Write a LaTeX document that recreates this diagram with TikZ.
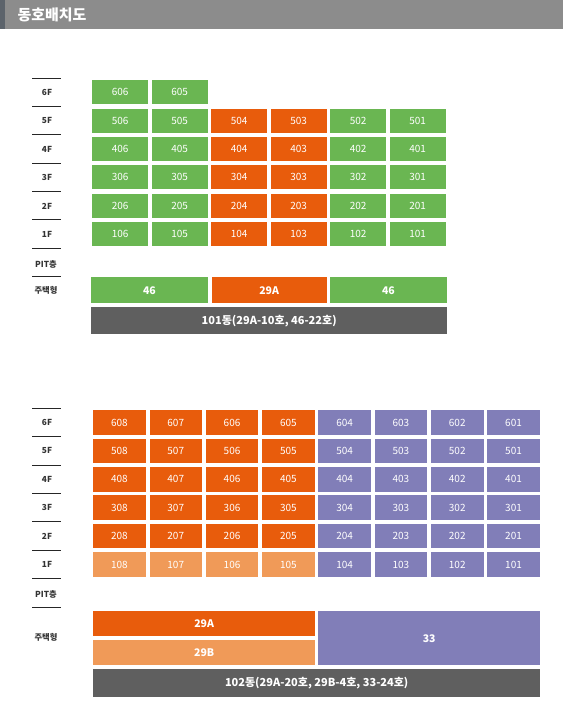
\documentclass[tikz,border=0pt]{standalone}
\usepackage{fontspec}
\setmainfont{Noto Sans CJK KR}
\definecolor{cgreen}{HTML}{6AB652}
\definecolor{corange}{HTML}{E85C0C}
\definecolor{clorange}{HTML}{F09A58}
\definecolor{cpurple}{HTML}{817EB8}
\definecolor{cbar}{HTML}{5F5F5F}
\definecolor{chead}{HTML}{8C8C8C}
\definecolor{cheadl}{HTML}{5C636B}
\definecolor{clabel}{HTML}{333333}
\begin{document}
\begin{tikzpicture}[x=1pt,y=-1pt,
  cell/.style={anchor=north west, inner sep=0pt, text=white,
    font=\fontsize{10}{10}\selectfont},
  typebox/.style={anchor=north west, inner sep=0pt, text=white,
    font=\bfseries\fontsize{10.5}{10.5}\selectfont},
  floorlbl/.style={text=clabel, font=\bfseries\fontsize{8.3}{8.3}\selectfont},
  sepline/.style={draw=black!85, line width=0.6pt}]
\useasboundingbox[fill=white] (0,0) rectangle (563,709);
% header
\fill[chead] (0,0) rectangle (563,29);
\fill[cheadl] (0,0) rectangle (5,29);
\node[anchor=west, text=white, font=\bfseries\fontsize{15}{15}\selectfont] (title) at (14,15) {동호배치도};

% ---------- 101 ----------
\foreach \k in {0,...,7} {
  \draw[sepline] (32,{78+\k*28.3}) -- (61,{78+\k*28.3});
}
\foreach \f in {6,...,1} {
  \pgfmathsetmacro{\yt}{80+(6-\f)*28.4}
  \node[floorlbl] (fa\f) at (47,{\yt+12.5}) {\f F};
}
\node[floorlbl] (fapit) at (46,264) {PIT층};
\node[floorlbl] (fatype) at (46,290) {주택형};
% 6F
\node[cell, fill=cgreen, minimum width=56pt, minimum height=24pt] (a606) at (92,80) {606};
\node[cell, fill=cgreen, minimum width=56pt, minimum height=24pt] (a605) at (151.5,80) {605};
\foreach \f in {5,...,1} {
  \foreach \i in {0,...,5} {
    \pgfmathsetmacro{\yt}{80+(6-\f)*28.4}
    \pgfmathsetmacro{\xl}{92+\i*59.5}
    \pgfmathtruncatemacro{\num}{\f*100+6-\i}
    \ifnum\i=2 \def\cc{corange}\else\ifnum\i=3 \def\cc{corange}\else\def\cc{cgreen}\fi\fi
    \node[cell, fill=\cc, minimum width=56pt, minimum height=24pt] (a\num) at (\xl,\yt) {\num};
  }
}
\node[typebox, fill=cgreen, minimum width=116.5pt, minimum height=26pt] (at1) at (91,277) {46};
\node[typebox, fill=corange, minimum width=115pt, minimum height=26pt] (at2) at (211.5,277) {29A};
\node[typebox, fill=cgreen, minimum width=116.5pt, minimum height=26pt] (at3) at (330,277) {46};
\node[typebox, fill=cbar, minimum width=356pt, minimum height=27pt,
  font=\bfseries\fontsize{11}{11}\selectfont] (abar) at (91,307) {101동(29A-10호, 46-22호)};

% ---------- 102 ----------
\foreach \k in {0,...,7} {
  \draw[sepline] (32,{408+\k*28.4}) -- (61,{408+\k*28.4});
}
\foreach \f in {6,...,1} {
  \pgfmathsetmacro{\yt}{410+(6-\f)*28.4}
  \node[floorlbl] (fb\f) at (47,{\yt+12.5}) {\f F};
}
\node[floorlbl] (fbpit) at (46,594) {PIT층};
\node[floorlbl] (fbtype) at (46,637) {주택형};
\foreach \f in {6,...,1} {
  \foreach \i in {0,...,7} {
    \pgfmathsetmacro{\yt}{410+(6-\f)*28.4}
    \pgfmathsetmacro{\xl}{93+\i*56.3}
    \pgfmathtruncatemacro{\num}{\f*100+8-\i}
    \ifnum\i<4
      \ifnum\f=1 \def\cc{clorange}\else\def\cc{corange}\fi
    \else \def\cc{cpurple}\fi
    \node[cell, fill=\cc, minimum width=52.5pt, minimum height=24.5pt] (b\num) at (\xl,\yt) {\num};
  }
}
\node[typebox, fill=corange, minimum width=222pt, minimum height=25pt] (bt1) at (93,611) {29A};
\node[typebox, fill=clorange, minimum width=222pt, minimum height=25pt] (bt2) at (93,640) {29B};
\node[typebox, fill=cpurple, minimum width=222pt, minimum height=54pt] (bt3) at (318,611) {33};
\node[typebox, fill=cbar, minimum width=447pt, minimum height=28pt,
  font=\bfseries\fontsize{11}{11}\selectfont] (bbar) at (93,669) {102동(29A-20호, 29B-4호, 33-24호)};
\end{tikzpicture}
\end{document}
